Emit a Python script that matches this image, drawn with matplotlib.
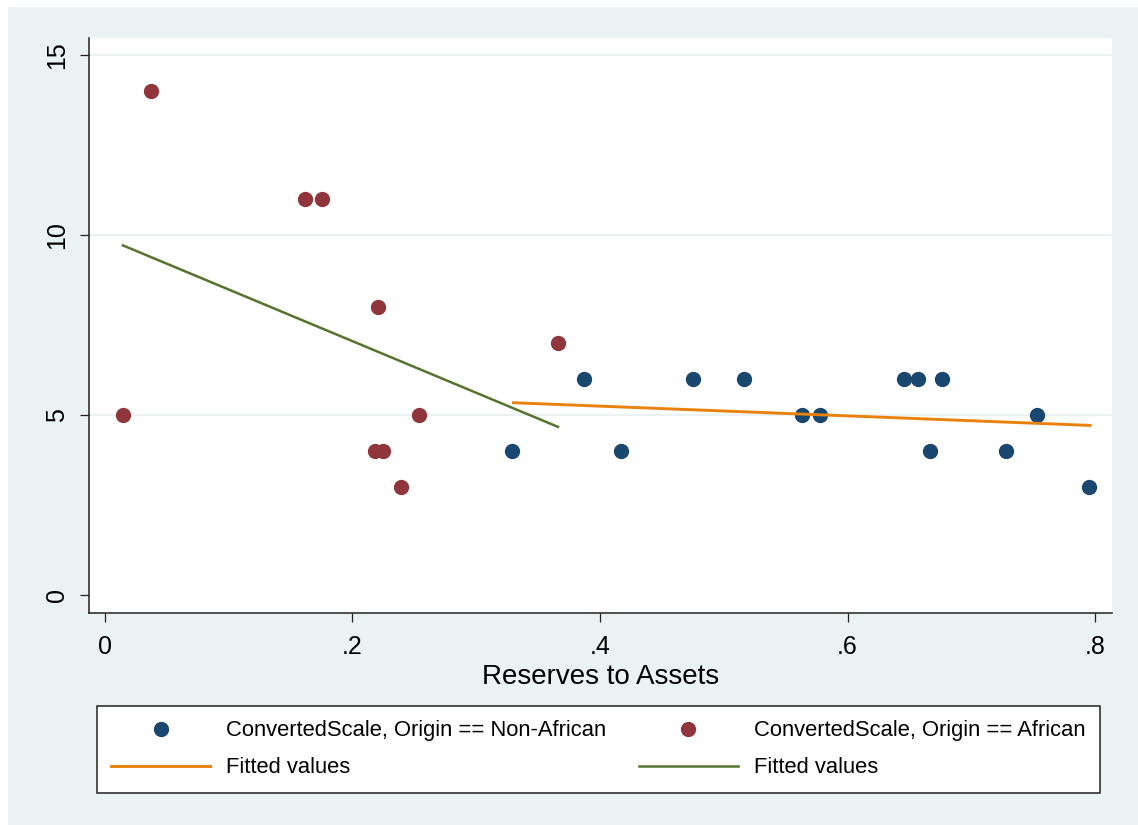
import matplotlib
matplotlib.use("Agg")
import matplotlib.pyplot as plt
from matplotlib.patches import Rectangle

plt.rcParams["font.family"] = ["Liberation Sans", "DejaVu Sans"]

# reserves-to-assets ratio and converted scale, by origin
non_african_x = [0.329, 0.387, 0.417, 0.475, 0.516, 0.563, 0.578, 0.646, 0.657, 0.676,
                 0.667, 0.728, 0.753, 0.795]
non_african_y = [4, 6, 4, 6, 6, 5, 5, 6, 6, 6, 4, 4, 5, 3]

african_x = [0.0145, 0.037, 0.162, 0.175, 0.221, 0.218, 0.225, 0.239, 0.254, 0.366]
african_y = [5, 14, 11, 11, 8, 4, 4, 3, 5, 7]

# linear fits (endpoints over each group's x range)
fit_non_african_x = [0.330, 0.796]
fit_non_african_y = [5.34, 4.71]
fit_african_x = [0.0145, 0.366]
fit_african_y = [9.71, 4.67]

x_ticks = [0, 0.2, 0.4, 0.6, 0.8]
x_tick_labels = ["0", ".2", ".4", ".6", ".8"]
y_ticks = [0, 5, 10, 15]

NAVY = "#1a476f"
MAROON = "#90353b"
ORANGE = "#e8820c"
GREEN = "#55752f"
BG = "#eaf2f3"

W, H = 1138, 825
fig = plt.figure(figsize=(W / 100, H / 100), dpi=100, facecolor="white")
fig.patches.append(Rectangle((8 / W, 0), 1 - 8 / W, 1 - 7 / H, transform=fig.transFigure,
                             facecolor=BG, edgecolor="none", zorder=-10))

ax = fig.add_axes([89 / W, 1 - 613 / H, (1112 - 89) / W, (613 - 38) / H])
ax.set_facecolor("white")

for v in y_ticks[1:]:
    ax.axhline(v, color=BG, lw=1.6, zorder=0)

h_na, = ax.plot(non_african_x, non_african_y, "o", ls="none", color=NAVY, ms=10, mec=NAVY,
                zorder=3, label="ConvertedScale, Origin == Non-African")
h_af, = ax.plot(african_x, african_y, "o", ls="none", color=MAROON, ms=10, mec=MAROON,
                zorder=3, label="ConvertedScale, Origin == African")
h_fna, = ax.plot(fit_non_african_x, fit_non_african_y, color=ORANGE, lw=2.1, zorder=4,
                 label="Fitted values")
h_faf, = ax.plot(fit_african_x, fit_african_y, color=GREEN, lw=1.8, zorder=4,
                 label="Fitted values")

ax.set_xlim(-0.0129, 0.8137)
ax.set_ylim(-0.5, 15.47)
ax.set_xticks(x_ticks)
ax.set_xticklabels(x_tick_labels)
ax.set_yticks(y_ticks)
ax.set_yticklabels([str(v) for v in y_ticks], rotation=90, va="center")
ax.tick_params(axis="both", direction="out", length=6.5, width=0.9, labelsize=18, color="#222222")
ax.tick_params(axis="x", pad=9)
ax.tick_params(axis="y", pad=8)

for side in ("top", "right"):
    ax.spines[side].set_visible(False)
for side in ("left", "bottom"):
    ax.spines[side].set_linewidth(1.1)
    ax.spines[side].set_color("#222222")

ax.set_xlabel("Reserves to Assets", fontsize=20, labelpad=4)

leg = fig.legend([h_na, h_fna, h_af, h_faf],
                 [h_na.get_label(), h_fna.get_label(), h_af.get_label(), h_faf.get_label()],
                 loc="upper left", bbox_to_anchor=(97 / W, 1 - 706 / H),
                 ncol=2, fontsize=15.8, handlelength=4.5, handletextpad=0.72,
                 columnspacing=1.5, labelspacing=0.72, borderpad=0.66, borderaxespad=0,
                 fancybox=False, framealpha=1, edgecolor="#222222", numpoints=1)
leg.get_frame().set_linewidth(1.1)

fig.savefig("out.png", dpi=100, facecolor=fig.get_facecolor())
